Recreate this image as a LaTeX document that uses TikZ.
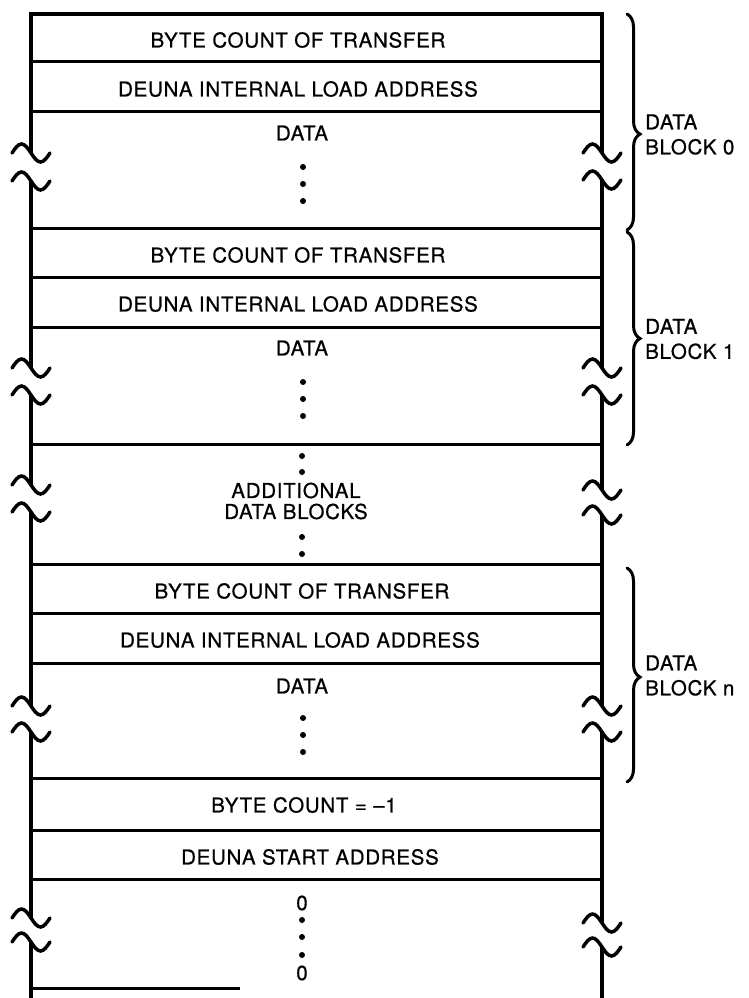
\documentclass[tikz,border=0pt]{standalone}
\usepackage{fontspec}
\setmainfont{TeX Gyre Heros}[LetterSpace=3.5, FakeBold=0.6]
\usetikzlibrary{decorations.pathreplacing}
\begin{document}
\begin{tikzpicture}[x=1pt,y=-1pt,
  vline/.style={line width=4pt},
  hline/.style={line width=3pt},
  wave/.style={line width=3.5pt, line cap=round},
  lab/.style={font=\fontsize{20.5}{25}\selectfont, inner sep=0pt},
  addlab/.style={font=\fontsize{20.5}{21}\selectfont, inner sep=0pt, align=center},
  blab/.style={font=\fontsize{20.5}{25}\selectfont, inner sep=0pt, align=left, anchor=west},
  dot/.style={circle, fill, inner sep=0pt, minimum size=6pt},
  blockbrace/.style={decorate, line width=3pt, line cap=round}]
\useasboundingbox (0,0) rectangle (749,998);

% outer vertical lines, broken at the wavy marks
\foreach \a/\b in {14/153, 181/368, 395/485, 512/706, 732/918, 942/998}
  \draw[vline] (31,\a) -- (31,\b);
\foreach \a/\b in {14/153, 180/368, 395/490, 515/706, 732/923, 947/998}
  \draw[vline] (602,\a) -- (602,\b);

% wavy break marks
\foreach \x/\y in {31/153, 31/181, 31/368, 31/395, 31/485, 31/512, 31/706, 31/732, 31/918, 31/942,
                   602/153, 602/180, 602/368, 602/395, 602/490, 602/515, 602/706, 602/732, 602/923, 602/947}
  \draw[wave] (\x-19,\y) sin (\x-9.5,\y-9) cos (\x,\y) sin (\x+9.5,\y+9) cos (\x+19,\y);

% horizontal rules
\draw[vline] (29,14) -- (604,14);
\foreach \y in {62, 111, 228, 277, 327, 444, 564, 613, 663, 778, 830, 879}
  \draw[hline] (31,\y) -- (602,\y);
\draw[hline] (31,988) -- (240,988);

% block 0
\node[lab] (bc0) at (298,40) {BYTE COUNT OF TRANSFER};
\node[lab] (la0) at (298,89) {DEUNA INTERNAL LOAD ADDRESS};
\node[lab] (da0) at (302,133) {DATA};
\node[dot] (d01) at (303,167) {};
\node[dot] (d02) at (303,184) {};
\node[dot] (d03) at (303,201) {};

% block 1
\node[lab] (bc1) at (298,255) {BYTE COUNT OF TRANSFER};
\node[lab] (la1) at (298,304) {DEUNA INTERNAL LOAD ADDRESS};
\node[lab] (da1) at (302,348) {DATA};
\node[dot] (d11) at (303,382) {};
\node[dot] (d12) at (303,399) {};
\node[dot] (d13) at (303,416) {};

% additional blocks
\node[dot] (a1) at (302,456) {};
\node[dot] (a2) at (302,472) {};
\node[addlab] (add) at (296,501) {ADDITIONAL\\DATA BLOCKS};
\node[dot] (a3) at (302,537) {};
\node[dot] (a4) at (302,554) {};

% block n
\node[lab] (bcn) at (302,591) {BYTE COUNT OF TRANSFER};
\node[lab] (lan) at (300,640) {DEUNA INTERNAL LOAD ADDRESS};
\node[lab] (dan) at (302,686) {DATA};
\node[dot] (dn1) at (303,718) {};
\node[dot] (dn2) at (303,735) {};
\node[dot] (dn3) at (303,752) {};

% end
\node[lab] (bce) at (304,805) {BYTE COUNT = –1};
\node[lab] (sa) at (310,857) {DEUNA START ADDRESS};
\node[lab] (z1) at (302,903) {0};
\node[dot] (e1) at (302,920) {};
\node[dot] (e2) at (302,937) {};
\node[dot] (e3) at (302,955) {};
\node[lab] (z2) at (302,973) {0};

% braces
\draw[blockbrace, decoration={brace, amplitude=13pt, aspect=0.556}] (627,14) -- (627,230);
\draw[blockbrace, decoration={brace, amplitude=13pt, aspect=0.50}] (627,232) -- (627,445);
\draw[blockbrace, decoration={brace, amplitude=13pt, aspect=0.51}] (627,568) -- (627,782);
\node[blab] (b0) at (645,134.5) {DATA\\BLOCK 0};
\node[blab] (b1) at (645,339) {DATA\\BLOCK 1};
\node[blab] (bn) at (645,675.5) {DATA\\BLOCK n};
\end{tikzpicture}
\end{document}
